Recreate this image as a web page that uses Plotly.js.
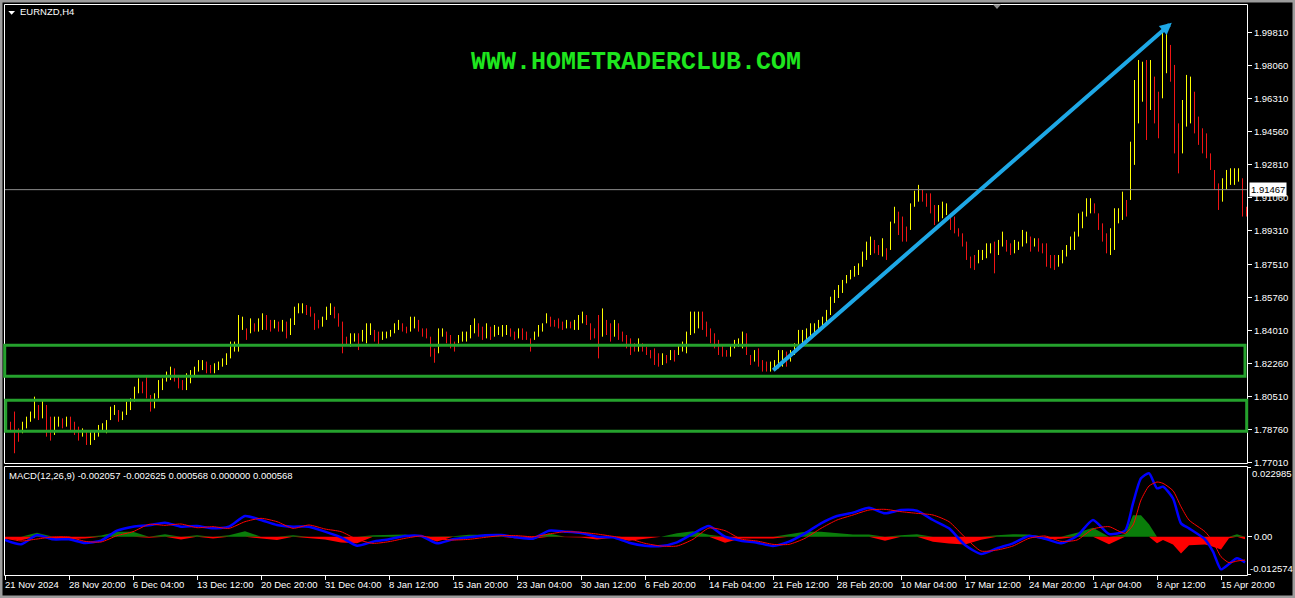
<!DOCTYPE html>
<html><head><meta charset="utf-8">
<script src="https://cdn.plot.ly/plotly-3.0.1.min.js"></script>
<style>html,body{margin:0;padding:0;background:#000;overflow:hidden}#chart{width:1295px;height:598px}</style>
</head><body><div id="chart"></div>
<script>
// ---------------- data ----------------
const symbolTitle = 'EURNZD,H4';
const watermark = 'WWW.HOMETRADERCLUB.COM';
const macdTitle = 'MACD(12,26,9) -0.002057 -0.002625 0.000568 0.000000 0.000568';
const priceTickLabels = ['1.99810','1.98060','1.96310','1.94560','1.92810','1.91060','1.89310','1.87510','1.85760','1.84010','1.82260','1.80510','1.78760','1.77010'];
const dateLabels = ['21 Nov 2024','28 Nov 20:00','6 Dec 04:00','13 Dec 12:00','20 Dec 20:00','31 Dec 04:00','8 Jan 12:00','15 Jan 20:00','23 Jan 04:00','30 Jan 12:00','6 Feb 20:00','14 Feb 04:00','21 Feb 12:00','28 Feb 20:00','10 Mar 04:00','17 Mar 12:00','24 Mar 20:00','1 Apr 04:00','8 Apr 12:00','15 Apr 20:00'];
const currentPrice = 1.91467;
const macdMaxLabel = '0.022985', macdMinLabel = '-0.012574', macdZeroLabel = '0.00';

// price bars (each entry = two H4 bars), high and low
const hi = [1.7943,1.7916,1.7970,1.7881,1.7916,1.7943,1.7970,1.8049,1.8005,1.8031,1.8005,1.7943,1.7943,1.7943,1.7934,1.7943,1.7943,1.7916,1.7890,1.7881,
1.7872,1.7872,1.7872,1.7899,1.7908,1.7925,1.7996,1.8005,1.7978,1.7970,1.8023,1.8040,1.8102,1.8146,1.8129,1.8155,1.8058,1.8067,1.8137,1.8146,
1.8182,1.8208,1.8199,1.8164,1.8137,1.8173,1.8190,1.8208,1.8243,1.8243,1.8235,1.8217,1.8226,1.8235,1.8252,1.8279,1.8341,1.8341,1.8482,1.8473,
1.8411,1.8464,1.8438,1.8464,1.8491,1.8482,1.8456,1.8456,1.8447,1.8456,1.8447,1.8464,1.8526,1.8544,1.8544,1.8535,1.8526,1.8491,1.8456,1.8473,
1.8526,1.8544,1.8526,1.8491,1.8447,1.8367,1.8385,1.8385,1.8385,1.8403,1.8438,1.8438,1.8403,1.8394,1.8394,1.8394,1.8403,1.8438,1.8456,1.8438,
1.8420,1.8473,1.8473,1.8456,1.8411,1.8411,1.8367,1.8305,1.8411,1.8411,1.8394,1.8376,1.8341,1.8376,1.8394,1.8394,1.8429,1.8464,1.8438,1.8420,
1.8438,1.8420,1.8429,1.8420,1.8429,1.8429,1.8411,1.8394,1.8411,1.8411,1.8394,1.8358,1.8394,1.8429,1.8438,1.8491,1.8473,1.8456,1.8464,1.8447,
1.8456,1.8447,1.8456,1.8482,1.8500,1.8482,1.8438,1.8411,1.8482,1.8517,1.8456,1.8438,1.8456,1.8438,1.8394,1.8376,1.8358,1.8332,1.8358,1.8332,
1.8314,1.8296,1.8305,1.8279,1.8279,1.8270,1.8296,1.8296,1.8323,1.8341,1.8394,1.8500,1.8500,1.8500,1.8500,1.8447,1.8411,1.8385,1.8350,1.8323,
1.8296,1.8323,1.8350,1.8358,1.8394,1.8385,1.8270,1.8296,1.8305,1.8243,1.8235,1.8235,1.8243,1.8296,1.8296,1.8288,1.8296,1.8332,1.8403,1.8403,
1.8411,1.8438,1.8438,1.8456,1.8473,1.8509,1.8579,1.8615,1.8641,1.8668,1.8694,1.8721,1.8742,1.8756,1.8818,1.8871,1.8898,1.8880,1.8853,1.8889,
1.8836,1.8977,1.9056,1.9030,1.9004,1.8951,1.9074,1.9141,1.9172,1.9145,1.9127,1.9127,1.9065,1.9065,1.9083,1.9074,1.9021,1.9004,1.8942,1.8915,
1.8871,1.8792,1.8800,1.8827,1.8827,1.8862,1.8862,1.8871,1.8880,1.8924,1.8880,1.8862,1.8880,1.8871,1.8933,1.8924,1.8898,1.8889,1.8889,1.8862,
1.8862,1.8800,1.8800,1.8800,1.8827,1.8853,1.8898,1.8924,1.9021,1.9030,1.9101,1.9101,1.9074,1.9021,1.8968,1.8915,1.8942,1.9048,1.9048,1.9136,
1.9092,1.9401,1.9728,1.9834,1.9825,1.9834,1.9834,1.9746,1.9666,1.9993,1.9976,1.9914,1.9808,1.9498,1.9622,1.9755,1.9746,1.9666,1.9534,1.9472,
1.9445,1.9339,1.9251,1.9180,1.9207,1.9251,1.9260,1.9260,1.9260,1.9207,1.9056];
const lo = [1.7872,1.7872,1.7749,1.7810,1.7855,1.7881,1.7916,1.7934,1.7925,1.7934,1.7837,1.7816,1.7846,1.7890,1.7881,1.7890,1.7872,1.7846,1.7816,1.7837,
1.7793,1.7793,1.7819,1.7837,1.7864,1.7855,1.7925,1.7952,1.7916,1.7925,1.7952,1.7978,1.8023,1.8067,1.8067,1.8040,1.7970,1.7987,1.8040,1.8084,
1.8129,1.8137,1.8129,1.8093,1.8084,1.8084,1.8120,1.8155,1.8182,1.8190,1.8173,1.8173,1.8173,1.8190,1.8208,1.8217,1.8252,1.8288,1.8288,1.8403,
1.8350,1.8385,1.8394,1.8394,1.8403,1.8403,1.8394,1.8411,1.8394,1.8394,1.8358,1.8376,1.8429,1.8491,1.8491,1.8482,1.8473,1.8403,1.8411,1.8420,
1.8456,1.8482,1.8464,1.8420,1.8279,1.8323,1.8314,1.8341,1.8296,1.8341,1.8332,1.8376,1.8341,1.8323,1.8350,1.8358,1.8367,1.8385,1.8403,1.8394,
1.8385,1.8394,1.8411,1.8394,1.8367,1.8358,1.8261,1.8229,1.8279,1.8367,1.8332,1.8305,1.8288,1.8332,1.8341,1.8341,1.8358,1.8385,1.8367,1.8350,
1.8358,1.8350,1.8367,1.8376,1.8367,1.8376,1.8367,1.8350,1.8358,1.8350,1.8350,1.8288,1.8350,1.8367,1.8394,1.8438,1.8420,1.8420,1.8411,1.8403,
1.8411,1.8411,1.8403,1.8403,1.8438,1.8429,1.8350,1.8358,1.8252,1.8367,1.8376,1.8341,1.8367,1.8350,1.8341,1.8305,1.8270,1.8288,1.8288,1.8288,
1.8270,1.8252,1.8217,1.8208,1.8217,1.8226,1.8243,1.8235,1.8270,1.8288,1.8279,1.8376,1.8385,1.8411,1.8403,1.8367,1.8332,1.8305,1.8270,1.8261,
1.8261,1.8261,1.8305,1.8314,1.8305,1.8270,1.8217,1.8235,1.8208,1.8182,1.8182,1.8182,1.8190,1.8199,1.8208,1.8208,1.8235,1.8270,1.8305,1.8332,
1.8350,1.8367,1.8385,1.8403,1.8411,1.8429,1.8482,1.8546,1.8572,1.8599,1.8650,1.8671,1.8685,1.8694,1.8738,1.8774,1.8800,1.8809,1.8800,1.8792,
1.8774,1.8827,1.8968,1.8906,1.8871,1.8871,1.8933,1.9056,1.9083,1.9083,1.9056,1.9021,1.8959,1.8977,1.8995,1.9012,1.8933,1.8915,1.8898,1.8845,
1.8774,1.8730,1.8721,1.8756,1.8774,1.8783,1.8809,1.8703,1.8800,1.8845,1.8818,1.8800,1.8809,1.8827,1.8845,1.8862,1.8818,1.8845,1.8818,1.8809,
1.8738,1.8730,1.8721,1.8738,1.8756,1.8792,1.8827,1.8827,1.8898,1.8942,1.9004,1.9021,1.9021,1.8933,1.8871,1.8809,1.8800,1.8827,1.8968,1.8986,
1.9004,1.9092,1.9278,1.9498,1.9613,1.9410,1.9569,1.9498,1.9419,1.9631,1.9764,1.9719,1.9339,1.9233,1.9339,1.9481,1.9498,1.9445,1.9384,1.9339,
1.9313,1.9251,1.9145,1.9039,1.9083,1.9145,1.9172,1.9172,1.9189,1.9004,1.9004];

// MACD(12,26,9): bar index of each sample, main line and signal line
const macdBar = [0,8,16,24,32,40,48,56,64,72,80,88,96,104,112,120,128,136,144,152,160,168,176,184,192,200,208,216,224,232,240,248,256,264,272,280,288,296,304,312,320,328,336,344,352,360,368,376,384,392,400,408,416,424,432,440,448,456,464,472,480,488,496,504,512,520,528,536,544,552,560,564,568,572,576,579,584,588,592,600,604,608,612,616,620];
const macdMain = [-0.00105,-0.00248,0.00059,-0.00083,-0.00083,-0.00204,-0.00127,0.00202,0.00334,0.00378,0.00465,0.00334,0.00356,0.00279,0.00334,0.00685,0.00553,0.00389,0.00334,0.00334,
0.00169,-0.00018,-0.00292,-0.00160,-0.00083,0.00026,0.00026,-0.00215,-0.00083,-0.00018,0.00048,0.00059,-0.00018,-0.00061,0.00202,0.00169,0.00125,0.00004,-0.00018,-0.00193,
-0.00292,-0.00303,-0.00182,0.00103,0.00356,0.00004,-0.00127,-0.00193,-0.00303,-0.00160,0.00114,0.00443,0.00685,0.00795,0.00959,0.00773,0.00882,0.00860,0.00553,0.00279,
-0.00270,-0.00566,-0.00380,-0.00215,0.00026,-0.00061,-0.00215,0.00026,0.00553,0.00092,0.00202,0.01102,0.01925,0.02090,0.01596,0.01651,0.01267,0.00443,0.00279,-0.00083,
-0.00487,-0.01071,-0.00895,-0.00709,-0.00841];
const macdSignal = [-0.00029,-0.00138,-0.00072,-0.00007,-0.00007,-0.00149,-0.00171,0.00037,0.00169,0.00410,0.00378,0.00421,0.00301,0.00334,0.00279,0.00498,0.00608,0.00498,0.00279,0.00389,
0.00257,0.00169,-0.00083,-0.00215,-0.00160,-0.00050,0.00026,-0.00061,-0.00105,-0.00083,-0.00018,0.00037,0.00037,0.00004,0.00092,0.00169,0.00147,0.00092,0.00015,-0.00061,
-0.00215,-0.00303,-0.00303,-0.00083,0.00290,0.00202,-0.00072,-0.00138,-0.00248,-0.00248,-0.00050,0.00279,0.00553,0.00718,0.00882,0.00904,0.00828,0.00773,0.00718,0.00498,
-0.00018,-0.00468,-0.00435,-0.00303,-0.00050,0.00026,-0.00149,-0.00105,0.00257,0.00334,0.00114,0.00389,0.01212,0.01673,0.01804,0.01760,0.01519,0.00992,0.00553,0.00169,
-0.00160,-0.00654,-0.00851,-0.00797,-0.00764];

// drawing objects on the chart (price levels)
const zones = [{lo:1.8157, hi:1.8321}, {lo:1.7866, hi:1.8030}];
const trendArrow = {fromBar:383.4, fromPrice:1.8182, toBar:583.4, toPrice:2.0032};

// ---------------- layout helpers ----------------
const W = 1295, H = 598;
const fx = p => p / W, fy = p => 1 - p / H;
const L = 5, R = 1247;                 // plot area x pixels
const mainTop = 4, mainBot = 464;      // main panel pixels
const subTop = 467, subBot = 575;      // MACD panel pixels
const nSlots = (R - L) / 2;            // 2 px per H4 bar
const pTop = parseFloat(priceTickLabels[0]);
const pBot = parseFloat(priceTickLabels[priceTickLabels.length - 1]);
const lblTopPx = 32.3, lblBotPx = 462.3;
const pxPerPrice = (lblBotPx - lblTopPx) / (pTop - pBot);
const priceAt = px => pTop - (px - lblTopPx) / pxPerPrice;
const pxOf = p => lblTopPx + (pTop - p) * pxPerPrice;
const macdMax = parseFloat(macdMaxLabel), macdMin = parseFloat(macdMinLabel);

const font = 'Liberation Sans, Arial, sans-serif';
const YEL = '#ffff00', RED = '#f01414', GRN = '#25a12d';

// ---------------- traces ----------------
const upX = [], upY = [], dnX = [], dnY = [];
for (let j = 0; j < hi.length; j++) {
  const x = 2 * j + 0.75;
  const up = j === 0 ? true : (hi[j] + lo[j]) >= (hi[j-1] + lo[j-1]);
  (up ? upX : dnX).push(x, x, null);
  (up ? upY : dnY).push(lo[j], hi[j], null);
}
const hist = macdMain.map((v, i) => v - macdSignal[i]);
const traces = [
  {type:'scatter', mode:'lines', x:upX, y:upY, line:{color:YEL, width:1}, hoverinfo:'skip', xaxis:'x', yaxis:'y', connectgaps:false},
  {type:'scatter', mode:'lines', x:dnX, y:dnY, line:{color:RED, width:1}, hoverinfo:'skip', xaxis:'x', yaxis:'y', connectgaps:false},
  {type:'scatter', mode:'lines', x:macdBar, y:hist.map(v => Math.max(v, 0)), fill:'tozeroy', fillcolor:'#0a7d0a', line:{width:0, color:'#0a7d0a'}, xaxis:'x2', yaxis:'y2', hoverinfo:'skip'},
  {type:'scatter', mode:'lines', x:macdBar, y:hist.map(v => Math.min(v, 0)), fill:'tozeroy', fillcolor:'#ff0000', line:{width:0, color:'#ff0000'}, xaxis:'x2', yaxis:'y2', hoverinfo:'skip'},
  {type:'scatter', mode:'lines', x:macdBar, y:macdMain, line:{color:'#0000ff', width:2.5, shape:'spline', smoothing:0.6}, xaxis:'x2', yaxis:'y2', hoverinfo:'skip'},
  {type:'scatter', mode:'lines', x:macdBar, y:macdSignal, line:{color:'#ff0000', width:1, shape:'spline', smoothing:0.6}, xaxis:'x2', yaxis:'y2', hoverinfo:'skip'}
];

// ---------------- shapes ----------------
const shapes = [];
const pline = (x0, y0, x1, y1, color, width) => shapes.push({type:'line', xref:'paper', yref:'paper', x0:fx(x0), y0:fy(y0), x1:fx(x1), y1:fy(y1), line:{color, width}, layer:'above'});
// outer frame
shapes.push({type:'rect', xref:'paper', yref:'paper', x0:fx(1), y0:fy(1), x1:fx(1294), y1:fy(597), line:{color:'#9c9c9c', width:3}, layer:'above'});
// panel frames
shapes.push({type:'rect', xref:'paper', yref:'paper', x0:fx(4.5), y0:fy(4.5), x1:fx(1247.5), y1:fy(463.5), line:{color:'#ffffff', width:1}, layer:'above'});
shapes.push({type:'rect', xref:'paper', yref:'paper', x0:fx(4.5), y0:fy(466.5), x1:fx(1247.5), y1:fy(575.5), line:{color:'#ffffff', width:1}, layer:'above'});
// current price line
pline(5, pxOf(currentPrice), 1247, pxOf(currentPrice), '#8c8c8c', 1);
// zones
zones.forEach((z, k) => {
  const xl = k === 0 ? 4.7 : 5.7, xr = k === 0 ? 1245 : 1246.7;
  shapes.push({type:'rect', xref:'paper', yref:'paper', x0:fx(xl), x1:fx(xr), y0:fy(pxOf(z.lo)), y1:fy(pxOf(z.hi)), line:{color:GRN, width:3}, layer:'above'});
});
// title triangle and chart-shift marker
const tri = (x0, x1, yT, yB, color) => shapes.push({type:'path', xref:'paper', yref:'paper', path:`M ${fx(x0)} ${fy(yT)} L ${fx(x1)} ${fy(yT)} L ${fx((x0+x1)/2)} ${fy(yB)} Z`, fillcolor:color, line:{width:0}, layer:'above'});
tri(8.3, 15, 11, 14.7, '#ffffff');
tri(993, 1001, 4.5, 9, '#8c8c8c');
// MACD axis tick marks for extreme labels
pline(1247, 467.5, 1251, 467.5, '#ffffff', 1);
pline(1247, 574.5, 1251, 574.5, '#ffffff', 1);

// ---------------- annotations ----------------
const ann = [];
const ptext = (x, y, text, opts) => ann.push(Object.assign({xref:'paper', yref:'paper', x:fx(x), y:fy(y), text, showarrow:false, xanchor:'left', yanchor:'middle', font:{family:font, size:9.5, color:'#ffffff'}, borderpad:0}, opts || {}));
ptext(19, 12, symbolTitle);
ptext(8, 475, macdTitle);
ptext(636, 62, '<b>' + watermark + '</b>', {xanchor:'center', font:{family:'Liberation Mono, Courier New, monospace', size:25, color:'#1ee61e'}});
ptext(1249, pxOf(currentPrice), currentPrice.toFixed(5), {bgcolor:'#ffffff', font:{family:font, size:9.5, color:'#000000'}, borderpad:1});
ptext(1251, 473.5, macdMaxLabel);
ptext(1249, 568.5, macdMinLabel);
dateLabels.forEach((t, k) => ann.push({xref:'x2', yref:'paper', x:k * 32, y:fy(584.5), text:t, showarrow:false, xanchor:'left', yanchor:'middle', xshift:-1, font:{family:font, size:9.5, color:'#ffffff'}, borderpad:0}));
ann.push({xref:'x', yref:'y', axref:'x', ayref:'y', x:trendArrow.toBar, y:trendArrow.toPrice, ax:trendArrow.fromBar, ay:trendArrow.fromPrice, text:'', showarrow:true, arrowhead:2, arrowsize:0.6, arrowwidth:4, arrowcolor:'#1ea8e6', standoff:0});

// ---------------- layout ----------------
const layout = {
  width: W, height: H, margin:{l:0, r:0, t:0, b:0, pad:0},
  paper_bgcolor:'#000000', plot_bgcolor:'#000000', showlegend:false,
  xaxis:{domain:[fx(L), fx(R)], range:[0, nSlots], anchor:'y', showgrid:false, zeroline:false, showticklabels:false, ticks:'', showline:false, fixedrange:true},
  yaxis:{domain:[fy(mainBot), fy(mainTop)], range:[priceAt(mainBot), priceAt(mainTop)], anchor:'x', side:'right', showgrid:false, zeroline:false, showline:false,
         tickmode:'array', tickvals:priceTickLabels.map(parseFloat), ticktext:priceTickLabels, ticks:'outside', ticklen:4, tickwidth:1, tickcolor:'#ffffff',
         tickfont:{family:font, size:9.5, color:'#ffffff'}, fixedrange:true},
  xaxis2:{domain:[fx(L), fx(R)], range:[0, nSlots], anchor:'y2', showgrid:false, zeroline:false, showticklabels:false, showline:false,
          tickmode:'array', tickvals:dateLabels.map((_, k) => k * 32), ticks:'outside', ticklen:4, tickwidth:1, tickcolor:'#ffffff', fixedrange:true},
  yaxis2:{domain:[fy(subBot), fy(subTop)], range:[macdMin, macdMax], anchor:'x2', side:'right', showgrid:false, zeroline:false, showline:false,
          tickmode:'array', tickvals:[0], ticktext:[macdZeroLabel], ticks:'outside', ticklen:4, tickwidth:1, tickcolor:'#ffffff',
          tickfont:{family:font, size:9.5, color:'#ffffff'}, fixedrange:true},
  shapes, annotations: ann
};
Plotly.newPlot('chart', traces, layout, {staticPlot:true, displayModeBar:false});
</script></body></html>
